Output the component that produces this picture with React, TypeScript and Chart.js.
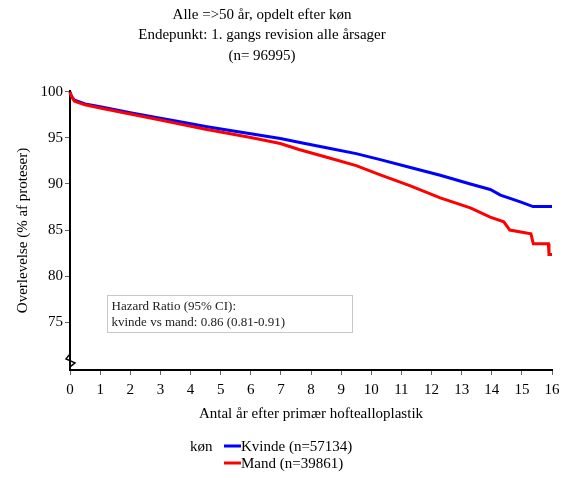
import React, { useEffect, useRef } from "react";
import { Chart, registerables } from "chart.js";

Chart.register(...registerables);

const titleLines = [
  "Alle =>50 år, opdelt efter køn",
  "Endepunkt: 1. gangs revision alle årsager",
  "(n= 96995)",
];
const yAxisTitle = "Overlevelse (% af proteser)";
const xAxisTitle = "Antal år efter primær hoftealloplastik";
const yTicks = [75, 80, 85, 90, 95, 100];
const legendTitle = "køn";
const seriesLabels = ["Kvinde (n=57134)", "Mand (n=39861)"];
const seriesColors = ["#0000ff", "#ff0000"];
const hazardLines = ["Hazard Ratio (95% CI):", "kvinde vs mand: 0.86 (0.81-0.91)"];

const kvindeTid = [0, 0.05, 0.15, 0.5, 1, 2, 3, 3.65, 4.5, 5.32, 6, 6.98, 7.8, 8.64, 9.5, 10.3, 11.3, 12.29, 13.29, 13.95, 14.29, 14.95, 15.37, 16];
const kvindeOverlevelse = [100, 99.5, 99.1, 98.7, 98.4, 97.75, 97.15, 96.75, 96.25, 95.8, 95.45, 94.95, 94.4, 93.85, 93.3, 92.65, 91.8, 90.95, 90.0, 89.4, 88.8, 88.05, 87.55, 87.55];

const mandTid = [0, 0.05, 0.15, 0.5, 1, 2, 3, 3.65, 4.5, 5.32, 6, 6.98, 7.6, 8.64, 9.5, 10.3, 11.3, 12.29, 13.29, 13.95, 14.4, 14.6, 15.3, 15.38, 15.88, 15.9, 16];
const mandOverlevelse = [100, 99.5, 99.0, 98.6, 98.25, 97.6, 96.95, 96.5, 95.95, 95.45, 95.05, 94.4, 93.75, 92.8, 92.0, 91.0, 89.8, 88.5, 87.4, 86.4, 85.9, 85.0, 84.6, 83.5, 83.5, 82.35, 82.35];

const FONT = "'Liberation Serif', 'Times New Roman', serif";

const decorPlugin = {
  id: "decor",
  afterDraw(chart: any) {
    const ctx = chart.ctx as CanvasRenderingContext2D;
    const area = chart.chartArea;
    const ys = chart.scales.y;
    ctx.save();
    // title
    ctx.fillStyle = "#000";
    ctx.textAlign = "center";
    ctx.textBaseline = "middle";
    ctx.font = `15px ${FONT}`;
    titleLines.forEach((t, i) => ctx.fillText(t, 262, 15 + i * 20.5));

    // axis break symbol
    const yb = ys.getPixelForValue(70.9);
    ctx.strokeStyle = "#000";
    ctx.lineWidth = 1.5;
    ctx.beginPath();
    ctx.moveTo(area.left, yb - 6);
    ctx.lineTo(area.left - 4, yb - 1);
    ctx.lineTo(area.left + 5, yb + 3);
    ctx.lineTo(area.left, yb + 7);
    ctx.stroke();

    // hazard ratio box
    ctx.strokeStyle = "#c8c8c8";
    ctx.lineWidth = 1;
    ctx.strokeRect(107.5, 295.5, 245, 37);
    ctx.fillStyle = "#222";
    ctx.textAlign = "left";
    ctx.font = `13px ${FONT}`;
    hazardLines.forEach((t, i) => ctx.fillText(t, 111.5, 306.5 + i * 16.5));

    // legend
    ctx.fillStyle = "#000";
    ctx.font = `15px ${FONT}`;
    ctx.fillText(legendTitle, 190, 447);
    seriesLabels.forEach((lab, i) => {
      const y = 447 + i * 17;
      ctx.strokeStyle = seriesColors[i];
      ctx.lineWidth = 3;
      ctx.beginPath();
      ctx.moveTo(224, y - 1);
      ctx.lineTo(241, y - 1);
      ctx.stroke();
      ctx.fillStyle = "#000";
      ctx.fillText(lab, 241, y);
    });
    ctx.restore();
  },
};

export default function App() {
  const ref = useRef<HTMLCanvasElement>(null);
  useEffect(() => {
    document.body.style.margin = "0";
    const canvas = ref.current!;
    const chart = new Chart(canvas, {
      type: "line",
      data: {
        datasets: [
          {
            label: seriesLabels[0],
            data: kvindeTid.map((t, i) => ({ x: t, y: kvindeOverlevelse[i] })),
            borderColor: seriesColors[0],
            backgroundColor: seriesColors[0],
            borderWidth: 3,
            pointRadius: 0,
            tension: 0,
            order: 1,
            clip: false as any,
          },
          {
            label: seriesLabels[1],
            data: mandTid.map((t, i) => ({ x: t, y: mandOverlevelse[i] })),
            borderColor: seriesColors[1],
            backgroundColor: seriesColors[1],
            borderWidth: 3,
            pointRadius: 0,
            tension: 0,
            order: 0,
            clip: false as any,
          },
        ],
      },
      options: {
        animation: false,
        responsive: false,
        layout: { padding: { top: 91, right: 19, bottom: 47, left: 0 } },
        plugins: {
          legend: { display: false },
          title: { display: false },
          tooltip: { enabled: false },
        },
        scales: {
          x: {
            type: "linear",
            min: 0,
            max: 16,
            ticks: {
              stepSize: 1,
              color: "#000",
              font: { family: FONT, size: 15 },
              padding: 6,
              maxRotation: 0,
            },
            grid: { drawOnChartArea: false, drawTicks: true, tickLength: 5, color: "#666" },
            border: { display: true, color: "#000", width: 2 },
            title: {
              display: true,
              text: xAxisTitle,
              color: "#000",
              font: { family: FONT, size: 15 },
              padding: { top: 0, bottom: 7 },
            },
            afterFit(scale: any) {
              scale.height = 60;
            },
          },
          y: {
            type: "linear",
            min: 69.8,
            max: 100.1,
            afterBuildTicks(scale: any) {
              scale.ticks = yTicks.map((v) => ({ value: v }));
            },
            ticks: {
              color: "#000",
              font: { family: FONT, size: 15 },
              padding: 2,
            },
            grid: { drawOnChartArea: false, drawTicks: true, tickLength: 5, color: "#666" },
            border: { display: true, color: "#000", width: 2 },
            title: {
              display: true,
              text: yAxisTitle,
              color: "#000",
              font: { family: FONT, size: 15 },
              padding: { top: 14, bottom: 0 },
            },
            afterFit(scale: any) {
              scale.width = 70;
            },
          },
        },
      },
      plugins: [decorPlugin],
    });
    return () => chart.destroy();
  }, []);
  return <canvas ref={ref} width={571} height={477} style={{ display: "block" }} />;
}
